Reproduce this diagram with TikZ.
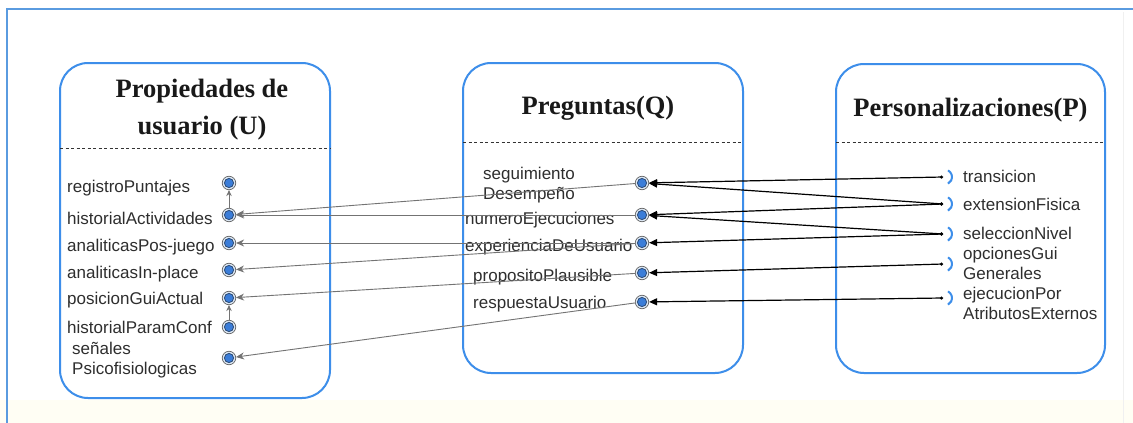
\documentclass[tikz,border=0pt]{standalone}
\usepackage{fontspec}
\setmainfont{Liberation Sans}
\newfontfamily\titlefont{Liberation Serif}
\usetikzlibrary{arrows.meta,calc}
\definecolor{frameblue}{HTML}{5A9BE0}
\definecolor{boxblue}{HTML}{3D8EEA}
\definecolor{portblue}{HTML}{3B7DD8}
\definecolor{portedge}{HTML}{2B4A75}
\definecolor{portring}{HTML}{DCE8F5}
\definecolor{txt}{HTML}{2E2E2E}
\definecolor{cream}{HTML}{FFFEF4}
\begin{document}
\begin{tikzpicture}[x=1pt,y=-1pt,
  compbox/.style={draw=boxblue, line width=2pt, rounded corners=28pt, inner sep=0pt, outer sep=0pt},
  sep/.style={draw=black!80, dash pattern=on 3pt off 2.5pt, line width=0.8pt},
  ttl/.style={font=\titlefont\bfseries\fontsize{26.5}{37}\selectfont, text=black!90, align=center, inner sep=0pt},
  lbl/.style={font=\fontsize{17}{20}\selectfont, text=txt, inner sep=0pt, align=left, anchor=west},
  uport/.style={circle, minimum size=13.5pt, inner sep=0pt, draw=black!60, line width=0.7pt, fill=portring,
    path picture={\fill[portblue, draw=portedge, line width=0.8pt] (path picture bounding box.center) circle (4.6pt);}},
  sockline/.style={draw=boxblue, line width=2pt},
  qu/.style={draw=black!55, line width=0.9pt, -{Stealth[length=8pt,width=7pt]}},
  ushort/.style={draw=black!55, line width=0.9pt, -{Stealth[length=6pt,width=5.5pt]}},
  pq/.style={draw=black, line width=1.2pt, {Circle[length=3pt]}-{Triangle[length=8pt,width=7pt]}}
]
\useasboundingbox (0,0) rectangle (1133,423);
\fill[white] (0,0) rectangle (1133,423);
\fill[cream] (0,400) rectangle (1133,423);
% outer frame
\draw[frameblue, line width=1.6pt] (7,423) -- (7,9) -- (1133,9);
\draw[black!6, line width=0.8pt] (1123,12) -- (1123,423);

% component boxes
\node[compbox, minimum width=270pt, minimum height=335pt] (U) at (195,230.5) {};
\node[compbox, minimum width=280pt, minimum height=310pt] (Q) at (603,218) {};
\node[compbox, minimum width=269pt, minimum height=309pt] (P) at (970.5,218.5) {};

\draw[sep] (U.west |- 0,148) -- (U.east |- 0,148);
\draw[sep] (Q.west |- 0,142) -- (Q.east |- 0,142);
\draw[sep] (P.west |- 0,142) -- (P.east |- 0,142);

% titles
\node[ttl] (tU) at (202,110) {Propiedades de\\usuario (U)};
\node[ttl] (tQ) at (598,108) {Preguntas(Q)};
\node[ttl] (tP) at (970.5,110) {Personalizaciones(P)};

% U labels
\node[lbl] (lu1) at (67,188) {registroPuntajes};
\node[lbl] (lu2) at (67,218) {historialActividades};
\node[lbl] (lu3) at (67,247) {analiticasPos-juego};
\node[lbl] (lu4) at (67,274) {analiticasIn-place};
\node[lbl] (lu5) at (67,300) {posicionGuiActual};
\node[lbl] (lu6) at (67,327) {historialParamConf};
\node[lbl] (lu7) at (72,360) {señales\\Psicofisiologicas};

% Q labels
\node[lbl] (lq1) at (483,185) {seguimiento\\Desempeño};
\node[lbl] (lq2) at (465,220) {numeroEjecuciones};
\node[lbl] (lq3) at (465,247) {experienciaDeUsuario};
\node[lbl] (lq4) at (473,277) {propositoPlausible};
\node[lbl] (lq5) at (473,304) {respuestaUsuario};

% P labels
\node[lbl] (lp1) at (963,176) {transicion};
\node[lbl] (lp2) at (963,204) {extensionFisica};
\node[lbl] (lp3) at (963,233) {seleccionNivel};
\node[lbl] (lp4) at (963,263) {opcionesGui\\Generales};
\node[lbl] (lp5) at (963,303) {ejecucionPor\\AtributosExternos};

% U ports
\node[uport] (u1) at (229,183) {};
\node[uport] (u2) at (229,215) {};
\node[uport] (u3) at (229,243) {};
\node[uport] (u4) at (229,270) {};
\node[uport] (u5) at (229,298) {};
\node[uport] (u6) at (229,327) {};
\node[uport] (u7) at (229,358) {};

% Q ports
\node[uport] (q1) at (642,183) {};
\node[uport] (q2) at (642,215) {};
\node[uport] (q3) at (642,243) {};
\node[uport] (q4) at (642,273) {};
\node[uport] (q5) at (642,302) {};

% P ports (sockets)
\coordinate (p1) at (943,177);
\coordinate (p2) at (943,204);
\coordinate (p3) at (943,234);
\coordinate (p4) at (943,264);
\coordinate (p5) at (943,298);
\foreach \p in {p1,p2,p3,p4,p5}{
  \draw[sockline] ($(\p)+(1.5,0)$) ++(62:7.5pt) arc[start angle=62, end angle=-62, radius=7.5pt];
}

% P -> Q
\draw[pq] (p1) -- (q1);
\draw[pq] (p2) -- (q1);
\draw[pq] (p2) -- (q2);
\draw[pq] (p3) -- (q2);
\draw[pq] (p3) -- (q3);
\draw[pq] (p4) -- (q4);
\draw[pq] (p5) -- (q5);

% Q -> U
\draw[qu] (q1) -- (u2);
\draw[qu] (q2) -- (u2);
\draw[qu] (q3) -- (u3);
\draw[qu] (q3) -- (u4);
\draw[qu] (q4) -- (u5);
\draw[qu] (q5) -- (u7);

% inside U
\draw[ushort] (u2) -- (u1);
\draw[ushort] (u6) -- (u5);
\end{tikzpicture}
\end{document}
